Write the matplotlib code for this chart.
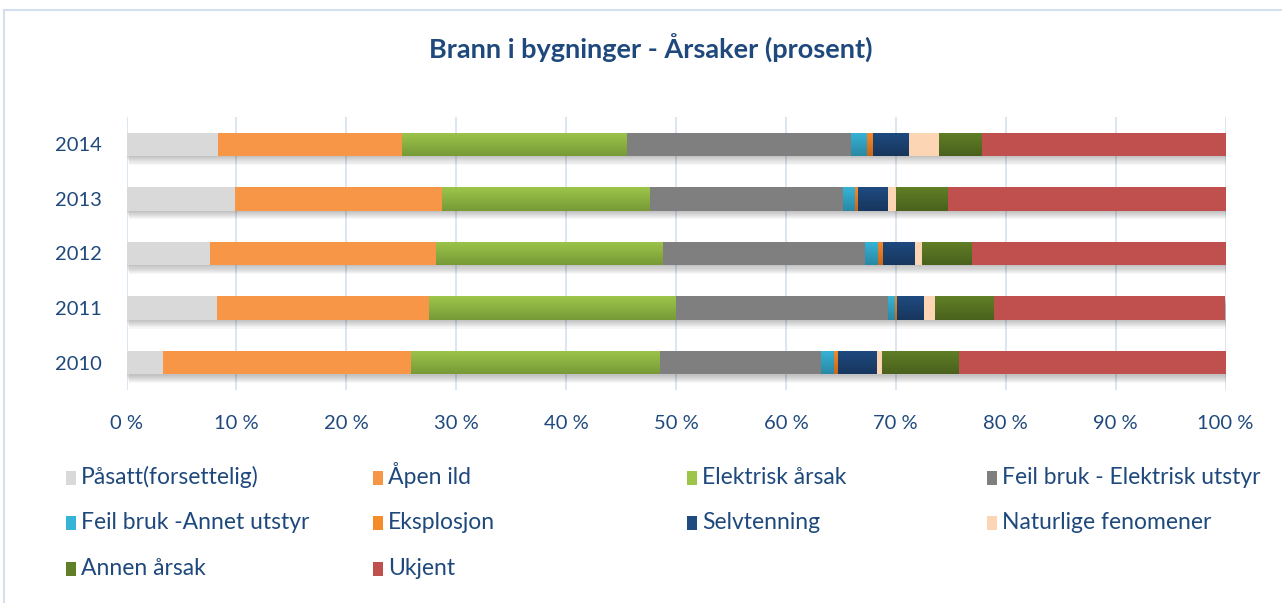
import numpy as np
from matplotlib import pyplot as plt
from matplotlib.colors import LinearSegmentedColormap
from matplotlib.patches import Rectangle
from matplotlib.lines import Line2D

plt.rcParams['font.family'] = ['Lato', 'DejaVu Sans']

years = ['2010', '2011', '2012', '2013', '2014']
causes = ['Påsatt(forsettelig)', 'Åpen ild', 'Elektrisk årsak', 'Feil bruk - Elektrisk utstyr',
          'Feil bruk -Annet utstyr', 'Eksplosjon', 'Selvtenning', 'Naturlige fenomener',
          'Annen årsak', 'Ukjent']

# percent per cause, years 2010..2014
pasatt = [3.3, 8.2, 7.6, 9.9, 8.3]
apen_ild = [22.6, 19.3, 20.6, 18.8, 16.8]
elektrisk = [22.6, 22.4, 20.6, 18.9, 20.4]
feil_elektrisk = [14.7, 19.4, 18.4, 17.6, 20.4]
feil_annet = [1.2, 0.6, 1.2, 1.1, 1.5]
eksplosjon = [0.35, 0.2, 0.4, 0.3, 0.55]
selvtenning = [3.5, 2.4, 2.9, 2.65, 3.2]
naturlige = [0.5, 1.1, 0.65, 0.8, 2.75]
annen = [7.0, 5.3, 4.5, 4.7, 3.9]
ukjent = [24.25, 21.1, 23.15, 25.25, 22.2]

series = [pasatt, apen_ild, elektrisk, feil_elektrisk, feil_annet,
          eksplosjon, selvtenning, naturlige, annen, ukjent]

# (top colour, bottom colour) - gradient where they differ
colors = [('#d9d9d9', '#d9d9d9'), ('#f79646', '#f79646'), ('#9dc54a', '#779a37'),
          ('#7f7f7f', '#7f7f7f'), ('#36b4d8', '#2a88a4'), ('#f68b2a', '#c7681b'),
          ('#1f4b80', '#17365d'), ('#fcd5b5', '#fcd5b5'), ('#607f26', '#4a611d'),
          ('#c0504d', '#c0504d')]

text_color = '#1f497d'
bar_h = 0.43

fig = plt.figure(figsize=(12.82, 6.03), dpi=100)
ax = fig.add_axes([126.5 / 1282, 213 / 603, 1099 / 1282, 273 / 603])

pos = np.arange(len(years))
totals = np.sum(series, axis=0)

# soft shadow under bars
for k in range(1, 9):
    ax.barh(pos - k * 0.02, totals, height=bar_h, left=k * 0.03, color='black',
            alpha=0.03, zorder=1, linewidth=0)

left = np.zeros(len(years))
for vals, (c_top, c_bot) in zip(series, colors):
    bars = ax.barh(pos, vals, left=left, height=bar_h, color=c_top, linewidth=0, zorder=2)
    if c_top != c_bot:
        cmap = LinearSegmentedColormap.from_list('g', [c_top, c_bot])
        grad = np.linspace(0, 1, 64).reshape(-1, 1)
        for p in bars.patches:
            x, y = p.get_x(), p.get_y()
            w, h = p.get_width(), p.get_height()
            im = ax.imshow(grad, extent=[x, x + w, y, y + h], cmap=cmap, aspect='auto',
                           origin='upper', zorder=3, interpolation='bilinear')
            im.set_clip_path(p)
    left += np.array(vals)

ax.set_xlim(0, 100)
ax.set_ylim(-0.5, 4.5)
ax.set_xticks(np.arange(0, 101, 10))
ax.set_xticklabels([f'{v} %' for v in range(0, 101, 10)])
ax.set_yticks(pos)
ax.set_yticklabels(years)
ax.tick_params(axis='both', length=0, labelsize=14.5, labelcolor=text_color)
ax.tick_params(axis='x', pad=18)
ax.tick_params(axis='y', pad=18)
ax.xaxis.grid(True, color='#d6e2f0', linewidth=1.2)
ax.set_axisbelow(True)
for s in ax.spines.values():
    s.set_visible(False)

fig.text(651 / 1282, 1 - 48 / 603, 'Brann i bygninger - Årsaker (prosent)', ha='center',
         va='center', fontsize=19.5, fontweight='bold', color=text_color)

# chart border (top and left visible)
fig.add_artist(Line2D([4 / 1282, 1.01], [1 - 10 / 603, 1 - 10 / 603], color='#d3e0f0',
                      linewidth=1.5, transform=fig.transFigure))
fig.add_artist(Line2D([4 / 1282, 4 / 1282], [-0.01, 1 - 10 / 603], color='#d3e0f0',
                      linewidth=1.5, transform=fig.transFigure))

# legend, row-major 4 columns
col_x = [66, 373, 687, 987]
row_y = [478, 523, 569]
for i, (name, (c_top, c_bot)) in enumerate(zip(causes, colors)):
    cx = col_x[i % 4]
    cy = row_y[i // 4]
    fig.add_artist(Rectangle((cx / 1282, 1 - (cy + 7) / 603), 10 / 1282, 14 / 603,
                             facecolor=c_top, edgecolor='none', transform=fig.transFigure))
    fig.text((cx + 15) / 1282, 1 - (cy + 6) / 603, name, ha='left', va='baseline',
             fontsize=16.5, color=text_color)

fig.savefig('out.png', dpi=100)
